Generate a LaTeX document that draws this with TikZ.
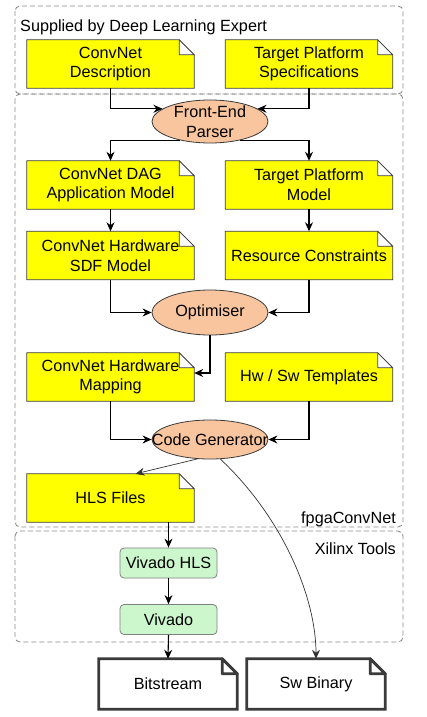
\documentclass[tikz,border=0pt]{standalone}
\usepackage{fontspec}
\setmainfont{Liberation Sans}
\usetikzlibrary{arrows.meta,backgrounds,shapes.geometric}
\definecolor{docyellow}{HTML}{FFFF00}
\definecolor{peach}{HTML}{F9C59E}
\definecolor{mint}{HTML}{CCF7CC}
\definecolor{regiongray}{HTML}{8C8C8C}
\definecolor{edgegray}{HTML}{3A3A3A}
\newcommand{\docshape}[3]{%
  \begin{pgfonlayer}{background}
  \filldraw[fill=#2,draw=edgegray,line width=#3]
    (#1.north west) -- ([xshift=-15pt]#1.north east) -- ([yshift=-15pt]#1.north east)
    -- (#1.south east) -- (#1.south west) -- cycle;
  \filldraw[fill=white,draw=edgegray,line width=#3,line join=round]
    ([xshift=-15pt]#1.north east) -- ([xshift=-15pt,yshift=-15pt]#1.north east)
    -- ([yshift=-15pt]#1.north east) -- cycle;
  \end{pgfonlayer}}
\begin{document}
\begin{tikzpicture}[x=1pt,y=-1pt,
  every node/.style={font=\fontsize{16.2}{19.6}\selectfont},
  docnode/.style={minimum width=167pt,minimum height=48pt,inner sep=0pt,align=center},
  outnode/.style={minimum width=138pt,minimum height=50pt,inner sep=0pt,align=center},
  procnode/.style={ellipse,fill=peach,draw=edgegray,line width=0.8pt,minimum width=116pt,inner xsep=-20pt,inner ysep=-12pt},
  toolnode/.style={rounded corners=4pt,fill=mint,draw=gray,line width=0.8pt,minimum width=97pt,minimum height=30pt,inner sep=0pt},
  region/.style={draw=regiongray,dash pattern=on 5pt off 3pt,rounded corners=5pt,line width=0.9pt},
  conn/.style={draw=black,line width=1.1pt,-{Stealth[length=9pt,width=8pt]}},
  thinconn/.style={draw=black!80,line width=0.7pt,-{Stealth[length=9pt,width=8pt]}},
  regionlabel/.style={inner sep=0pt}
  ]
\useasboundingbox (0,0) rectangle (427,717);
% regions
\draw[region] (15,6) rectangle (403,94);
\draw[region] (15,94) rectangle (403,527);
\draw[region] (15,531) rectangle (403,642);
\node[regionlabel,anchor=west] (lsup) at (20,27) {Supplied by Deep Learning Expert};
\node[regionlabel,anchor=east] (lfpga) at (396,519) {fpgaConvNet};
\node[regionlabel,anchor=east] (lxil) at (396,549) {Xilinx Tools};
% documents
\node[docnode] (cd) at (110.5,64) {ConvNet\\Description};
\node[docnode] (tps) at (309,64) {Target Platform\\Specifications};
\node[docnode] (dag) at (110.5,185) {ConvNet DAG\\Application Model};
\node[docnode] (tpm) at (309,185) {Target Platform\\Model};
\node[docnode] (sdf) at (110.5,255.5) {ConvNet Hardware\\SDF Model};
\node[docnode] (rc) at (309,255.5) {Resource Constraints};
\node[docnode] (map) at (110.5,377) {ConvNet Hardware\\Mapping};
\node[docnode] (tmpl) at (309,377) {Hw / Sw Templates};
\node[docnode] (hls) at (110.5,498) {HLS Files};
\docshape{cd}{docyellow}{0.8pt}
\docshape{tps}{docyellow}{0.8pt}
\docshape{dag}{docyellow}{0.8pt}
\docshape{tpm}{docyellow}{0.8pt}
\docshape{sdf}{docyellow}{0.8pt}
\docshape{rc}{docyellow}{0.8pt}
\docshape{map}{docyellow}{0.8pt}
\docshape{tmpl}{docyellow}{0.8pt}
\docshape{hls}{docyellow}{0.8pt}
% processes
\node[procnode,minimum height=43pt,align=center] (fe) at (210,121.5) {Front-End\\Parser};
\node[procnode,minimum height=45pt] (opt) at (210,312.5) {Optimiser};
\node[procnode,minimum height=39pt] (cg) at (210,439.5) {Code Generator};
% tools
\node[toolnode] (vh) at (168.5,563) {Vivado HLS};
\node[toolnode] (viv) at (168.5,619.5) {Vivado};
% outputs
\node[outnode] (bit) at (168,684) {Bitstream};
\node[outnode] (sw) at (316,684) {Sw Binary};
\docshape{bit}{white}{2.8pt}
\docshape{sw}{white}{2.8pt}
% connectors
\draw[conn] (cd.south) |- (fe.165);
\draw[conn] (tps.south) |- (fe.15);
\draw[conn] (fe.212) -| (dag.north);
\draw[conn] (fe.-32) -| (tpm.north);
\draw[conn] (dag.south) -- (sdf.north);
\draw[conn] (tpm.south) -- (rc.north);
\draw[conn] (sdf.south) |- (opt.west);
\draw[conn] (rc.south) |- (opt.east);
\draw[conn] (opt.south) |- ([yshift=4pt]map.east);
\draw[conn] (map.south) |- (cg.west);
\draw[conn] (tmpl.south) |- (cg.east);
\draw[thinconn] (cg.237) -- ([xshift=25pt]hls.north);
\draw[thinconn] (cg.-62) .. controls (285,520) and (316,600) .. (sw.north);
\draw[conn] (hls.south -| vh.north) -- (vh.north);
\draw[conn] (vh.south) -- (viv.north);
\draw[conn] (viv.south) -- (bit.north);
\end{tikzpicture}
\end{document}
